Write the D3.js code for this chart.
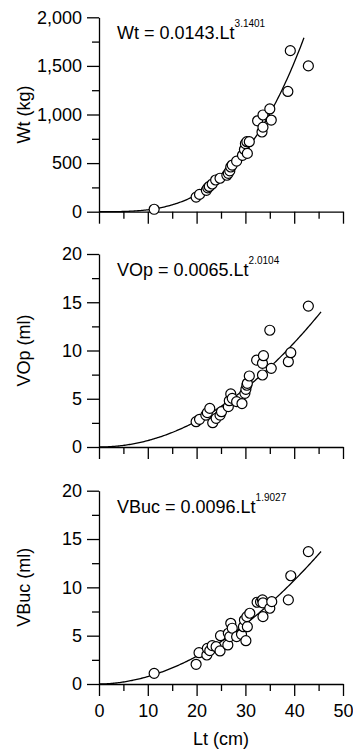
<!DOCTYPE html>
<html>
<head>
<meta charset="utf-8">
<script src="https://cdn.jsdelivr.net/npm/d3@7"></script>
<style>
  body { margin: 0; background: #fff; }
  text { font-family: "Liberation Sans", Arial, sans-serif; fill: #000; }
</style>
</head>
<body>
<div id="chart"></div>
<script>
// Wt panel
var wtLt  = [11.3, 19.9, 20.6, 22.0, 22.3, 22.6, 23.2, 23.9, 24.8, 26.2, 26.5, 26.8, 27.0, 27.3, 28.2, 29.4, 29.8, 30.0, 30.3, 30.4, 30.8, 32.5, 33.4, 33.6, 33.6, 35.0, 35.3, 38.7, 39.2, 42.9];
var wtVal = [25, 150, 178, 220, 245, 260, 285, 326, 344, 375, 395, 420, 460, 480, 520, 580, 640, 700, 720, 600, 720, 935, 820, 870, 995, 1057, 943, 1237, 1657, 1500];

// VOp panel
var vopLt  = [19.9, 20.6, 21.9, 22.2, 22.7, 23.3, 24.0, 24.8, 25.1, 26.5, 26.7, 27.0, 27.3, 28.2, 29.3, 29.9, 30.1, 30.3, 30.4, 30.8, 32.3, 33.5, 33.7, 33.5, 35.0, 35.3, 38.8, 39.3, 42.9];
var vopVal = [2.62, 2.87, 3.3, 3.56, 4.0, 2.52, 2.97, 3.3, 3.66, 4.18, 4.8, 5.5, 5.04, 4.7, 4.5, 5.56, 5.98, 6.4, 6.6, 7.36, 9.0, 8.67, 9.46, 7.46, 12.1, 8.15, 8.84, 9.77, 14.6];

// VBuc panel
var vbucLt  = [11.3, 19.9, 20.5, 22.1, 22.2, 22.7, 23.2, 24.0, 24.8, 24.9, 26.4, 26.5, 26.8, 27.0, 27.3, 28.2, 29.2, 29.6, 29.8, 30.1, 30.4, 30.3, 30.9, 32.4, 33.1, 33.5, 33.6, 33.6, 35.0, 35.4, 38.8, 39.3, 42.9];
var vbucVal = [1.1, 2.04, 3.24, 3.0, 3.69, 3.45, 3.97, 3.86, 3.42, 5.0, 4.04, 5.25, 4.9, 6.28, 5.77, 4.9, 5.14, 5.93, 6.62, 4.48, 5.93, 6.97, 7.32, 8.46, 8.5, 8.7, 8.4, 6.97, 7.84, 8.52, 8.7, 11.2, 13.7];

// fitted power curves  y = a * Lt^b
var wtFit   = [0.0143, 3.1401];
var vopFit  = [0.0065, 2.0104];
var vbucFit = [0.0096, 1.9027];

var xTicks = [0, 10, 20, 30, 40, 50];
var xMinor = [5, 15, 25, 35, 45];
var wtTicks = [0, 500, 1000, 1500, 2000];
var wtMinor = [250, 750, 1250, 1750];
var volTicks = [0, 5, 10, 15, 20];
var volMinor = [2.5, 7.5, 12.5, 17.5];

var W = 353, H = 752;
var svg = d3.select("#chart").append("svg")
    .attr("width", W).attr("height", H);

var x = d3.scaleLinear().domain([0, 50]).range([99, 343]);

var panels = [
  {lt: wtLt, val: wtVal, fit: wtFit, fitEnd: 42, top: 17.3, bottom: 211.7, max: 2000,
   ticks: wtTicks, minor: wtMinor, fmt: d3.format(","), title: "Wt (kg)", name: "Wt", xLabels: false},
  {lt: vopLt, val: vopVal, fit: vopFit, fitEnd: 45.6, top: 254, bottom: 447, max: 20,
   ticks: volTicks, minor: volMinor, fmt: d3.format("d"), title: "VOp (ml)", name: "VOp", xLabels: false},
  {lt: vbucLt, val: vbucVal, fit: vbucFit, fitEnd: 45.5, top: 490.7, bottom: 684, max: 20,
   ticks: volTicks, minor: volMinor, fmt: d3.format("d"), title: "VBuc (ml)", name: "VBuc", xLabels: true}
];

panels.forEach(function(p) {
  var y = d3.scaleLinear().domain([0, p.max]).range([p.bottom, p.top]);
  var g = svg.append("g");

  // x axis
  g.append("g").attr("transform", "translate(0," + p.bottom + ")")
    .call(d3.axisBottom(x).tickValues(xTicks).tickSize(12).tickSizeOuter(0)
      .tickPadding(8).tickFormat(p.xLabels ? d3.format("d") : ""));
  g.append("g").attr("transform", "translate(0," + p.bottom + ")")
    .call(d3.axisBottom(x).tickValues(xMinor).tickSize(7).tickFormat(""))
    .select(".domain").remove();

  // y axis
  g.append("g").attr("transform", "translate(" + x(0) + ",0)")
    .call(d3.axisLeft(y).tickValues(p.ticks).tickSize(12).tickSizeOuter(0)
      .tickPadding(5).tickFormat(p.fmt));
  g.append("g").attr("transform", "translate(" + x(0) + ",0)")
    .call(d3.axisLeft(y).tickValues(p.minor).tickSize(7).tickFormat(""))
    .select(".domain").remove();

  g.selectAll(".tick text").attr("font-size", 18).attr("font-family", "Liberation Sans, Arial, sans-serif");
  g.selectAll(".domain, .tick line").attr("stroke", "#000").attr("stroke-width", 1.3);

  // fitted curve
  var pts = d3.range(0, p.fitEnd + 0.001, 0.25).map(function(l) {
    return [l, p.fit[0] * Math.pow(l, p.fit[1])];
  });
  g.append("path").datum(pts)
    .attr("fill", "none").attr("stroke", "#000").attr("stroke-width", 1.3)
    .attr("d", d3.line().x(function(d) { return x(d[0]); }).y(function(d) { return y(d[1]); }));

  // points
  g.append("g").selectAll("circle")
    .data(p.lt.map(function(l, i) { return [l, p.val[i]]; }))
    .enter().append("circle")
      .attr("cx", function(d) { return x(d[0]); })
      .attr("cy", function(d) { return y(d[1]); })
      .attr("r", 5)
      .attr("fill", "#fff").attr("stroke", "#000").attr("stroke-width", 1.2);

  // equation
  var eq = g.append("text").attr("x", 117).attr("y", p.top + 22).attr("font-size", 18);
  eq.append("tspan").text(p.name + " = " + p.fit[0] + ".Lt");
  eq.append("tspan").attr("font-size", 10).attr("dy", -12).text(p.fit[1].toFixed(4));

  // y title
  g.append("text")
    .attr("transform", "translate(30," + ((p.top + p.bottom) / 2) + ")rotate(-90)")
    .attr("text-anchor", "middle").attr("font-size", 18)
    .text(p.title);
});

svg.append("text").attr("x", 221).attr("y", 745)
  .attr("text-anchor", "middle").attr("font-size", 18).text("Lt (cm)");
</script>
</body>
</html>
